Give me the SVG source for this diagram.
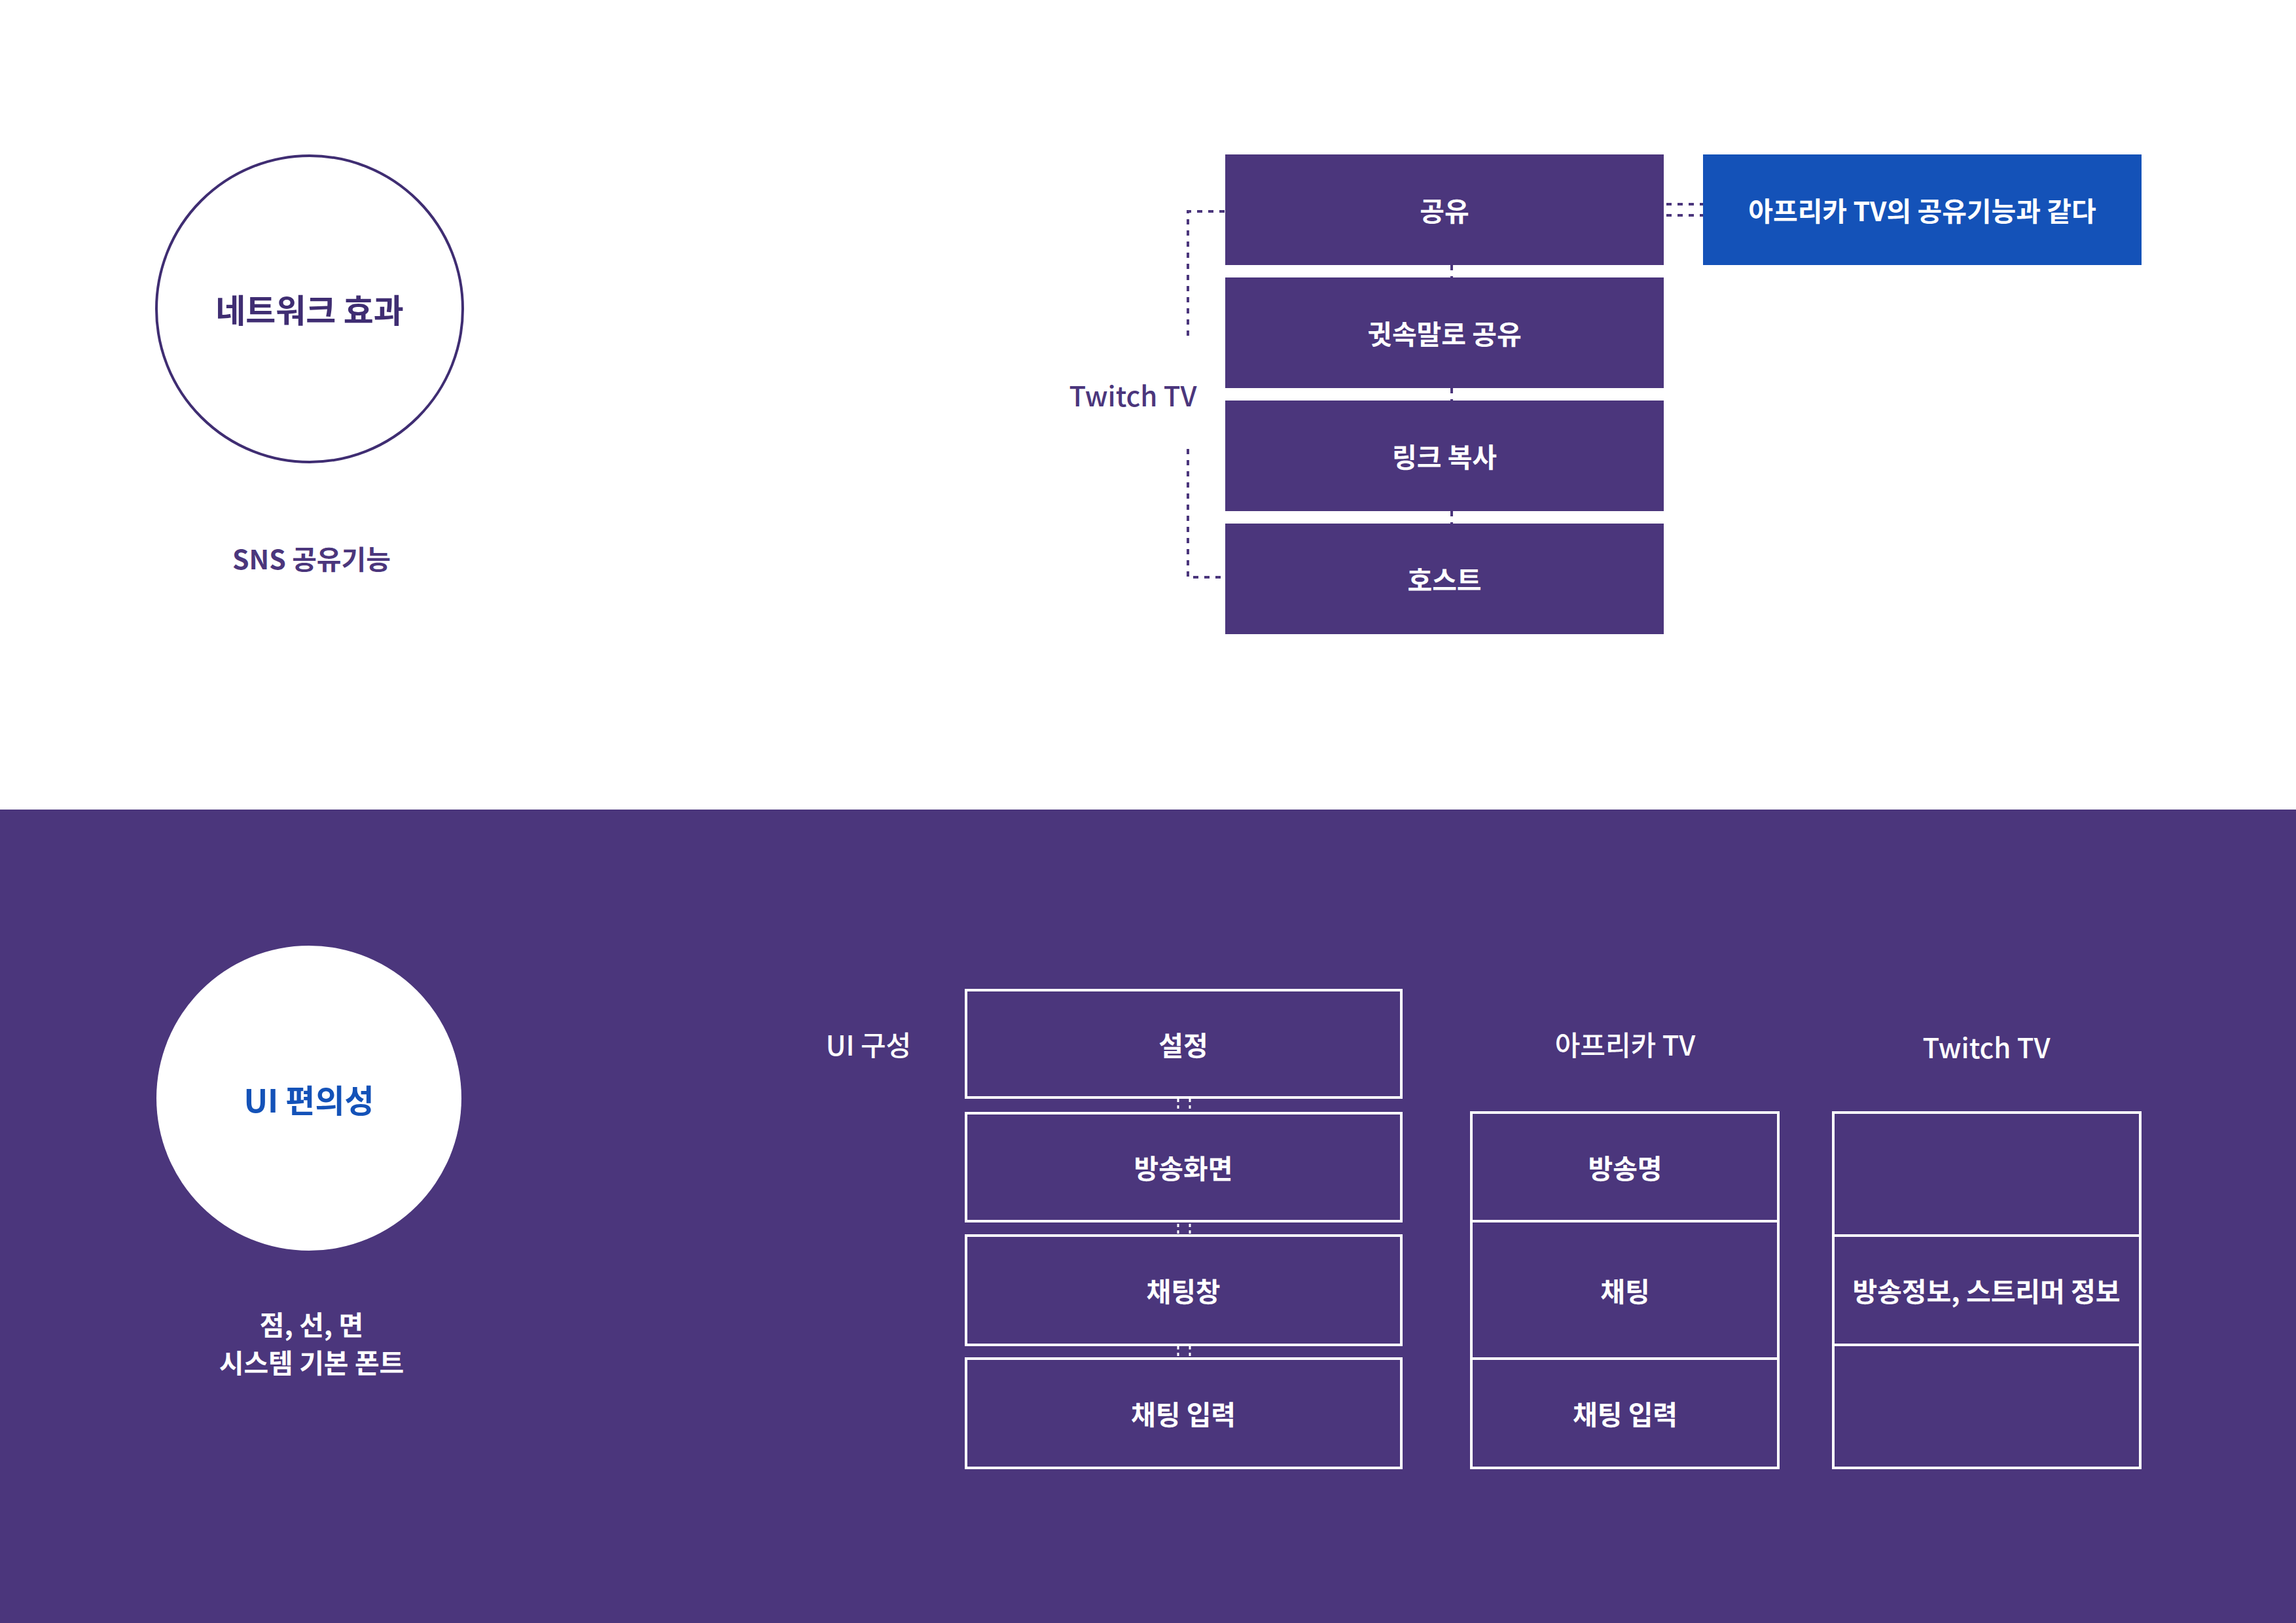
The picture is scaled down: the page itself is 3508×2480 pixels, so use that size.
<svg xmlns="http://www.w3.org/2000/svg" width="3508" height="2480" viewBox="0 0 3508 2480">
<defs>
<style>
text{font-family:"Noto Sans CJK KR","Noto Sans",sans-serif;text-anchor:middle;dominant-baseline:central}
.pbox{fill:#4b367c}
.bbox{fill:#1452b8}
.obox{fill:none;stroke:#ffffff;stroke-width:4}
.wlbl{fill:#ffffff;font-size:41px;font-weight:700}
.plbl{fill:#4b367c;font-size:42px;font-weight:500}
.hlbl{fill:#ffffff;font-size:42px;font-weight:500}
.dash{fill:none;stroke:#4b367c;stroke-width:4;stroke-dasharray:8 9}
.wdash{fill:none;stroke:#ffffff;stroke-width:3;stroke-dasharray:5 5}
</style>
</defs>
<rect x="0" y="0" width="3508" height="2480" fill="#ffffff"/>
<rect id="bottom-panel" x="0" y="1237" width="3508" height="1243" fill="#4b367c"/>

<g id="connectors">
<path class="dash" d="M1871 323 H1815 V519"/>
<path class="dash" d="M1815 686 V882 H1871"/>
<line class="dash" x1="2218" y1="405" x2="2218" y2="424"/>
<line class="dash" x1="2218" y1="593" x2="2218" y2="612"/>
<line class="dash" x1="2218" y1="781" x2="2218" y2="800"/>
<line class="dash" x1="2546" y1="312" x2="2602" y2="312"/>
<line class="dash" x1="2546" y1="329" x2="2602" y2="329"/>
<line class="wdash" x1="1800" y1="1679" x2="1800" y2="1698"/>
<line class="wdash" x1="1818" y1="1679" x2="1818" y2="1698"/>
<line class="wdash" x1="1800" y1="1870" x2="1800" y2="1886"/>
<line class="wdash" x1="1818" y1="1870" x2="1818" y2="1886"/>
<line class="wdash" x1="1800" y1="2057" x2="1800" y2="2074"/>
<line class="wdash" x1="1818" y1="2057" x2="1818" y2="2074"/>
</g>

<g id="network-effect">
<circle cx="473" cy="472" r="234" fill="#ffffff" stroke="#3f2d72" stroke-width="4"/>
<text x="473" y="471" fill="#3f2d72" font-size="50" font-weight="700">네트워크 효과</text>
</g>
<g id="sns-label"><text x="476" y="852" fill="#4b367c" font-size="41" font-weight="700">SNS 공유기능</text></g>
<g id="twitch-label"><text class="plbl" x="1731" y="602">Twitch TV</text></g>

<g id="share"><rect class="pbox" x="1872" y="236" width="670" height="169"/><text class="wlbl" x="2207" y="320">공유</text></g>
<g id="whisper"><rect class="pbox" x="1872" y="424" width="670" height="169"/><text class="wlbl" x="2207" y="508">귓속말로 공유</text></g>
<g id="link-copy"><rect class="pbox" x="1872" y="612" width="670" height="169"/><text class="wlbl" x="2207" y="696">링크 복사</text></g>
<g id="host"><rect class="pbox" x="1872" y="800" width="670" height="169"/><text class="wlbl" x="2207" y="884">호스트</text></g>
<g id="afreeca-same"><rect class="bbox" x="2602" y="236" width="670" height="169"/><text class="wlbl" x="2937" y="320" font-size="42">아프리카 TV의 공유기능과 같다</text></g>

<g id="ui-convenience">
<circle cx="472" cy="1678" r="233" fill="#ffffff"/>
<text x="472" y="1678" fill="#1452b8" font-size="49" font-weight="700">UI 편의성</text>
</g>
<g id="font-label">
<text class="wlbl" x="476" y="2022" font-size="42">점, 선, 면</text>
<text class="wlbl" x="476" y="2080" font-size="42">시스템 기본 폰트</text>
</g>

<g id="ui-header"><text class="hlbl" x="1327" y="1594">UI 구성</text></g>
<g id="afreeca-header"><text class="hlbl" x="2483" y="1594">아프리카 TV</text></g>
<g id="twitch-header"><text class="hlbl" x="3035" y="1598">Twitch TV</text></g>

<g id="ui-settings"><rect class="obox" x="1476" y="1513" width="665" height="164"/><text class="wlbl" x="1808" y="1595">설정</text></g>
<g id="ui-screen"><rect class="obox" x="1476" y="1701" width="665" height="165"/><text class="wlbl" x="1808" y="1783">방송화면</text></g>
<g id="ui-chat"><rect class="obox" x="1476" y="1888" width="665" height="167"/><text class="wlbl" x="1808" y="1971">채팅창</text></g>
<g id="ui-input"><rect class="obox" x="1476" y="2076" width="665" height="167"/><text class="wlbl" x="1808" y="2159">채팅 입력</text></g>

<g id="afreeca-title"><rect class="obox" x="2248" y="1700" width="469" height="166"/><text class="wlbl" x="2483" y="1783">방송명</text></g>
<g id="afreeca-chat"><rect class="obox" x="2248" y="1866" width="469" height="210"/><text class="wlbl" x="2483" y="1971">채팅</text></g>
<g id="afreeca-input"><rect class="obox" x="2248" y="2076" width="469" height="167"/><text class="wlbl" x="2483" y="2159">채팅 입력</text></g>

<g id="twitch-top"><rect class="obox" x="2801" y="1700" width="469" height="188"/></g>
<g id="twitch-info"><rect class="obox" x="2801" y="1888" width="469" height="167"/><text class="wlbl" x="3035" y="1971" font-size="42">방송정보, 스트리머 정보</text></g>
<g id="twitch-bottom"><rect class="obox" x="2801" y="2055" width="469" height="188"/></g>
</svg>
